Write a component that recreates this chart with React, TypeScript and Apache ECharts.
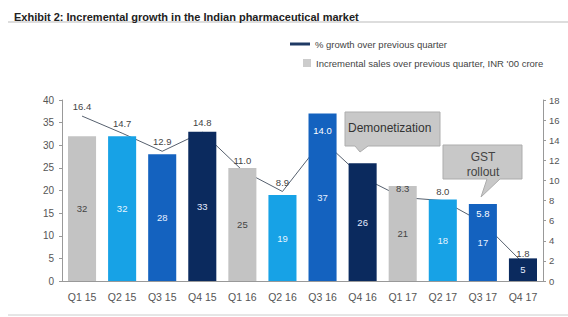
import React, { useEffect, useRef } from "react";
import * as echarts from "echarts";

const categories = ["Q1 15", "Q2 15", "Q3 15", "Q4 15", "Q1 16", "Q2 16", "Q3 16", "Q4 16", "Q1 17", "Q2 17", "Q3 17", "Q4 17"];
const incrementalSales = [32, 32, 28, 33, 25, 19, 37, 26, 21, 18, 17, 5];
const growthPct = [16.4, 14.7, 12.9, 14.8, 11.0, 8.9, 14.0, 10.3, 8.3, 8.0, 5.8, 1.8];
const leftTicks = { min: 0, max: 40, interval: 5 };
const rightTicks = { min: 0, max: 18, interval: 2 };

const quarterColors = ["#c3c3c3", "#17a2e6", "#1462bf", "#0b2a5e"];
const barLabelColors = ["#444", "#e6f4ff", "#e6f0ff", "#e6ecff"];
const hiddenGrowthLabel = "Q4 16";
const whiteGrowthLabels = ["Q3 16", "Q3 17"];

const FONT = "Liberation Sans";

export default function App() {
  const ref = useRef<HTMLDivElement>(null);
  useEffect(() => {
    if (!ref.current) return;
    const chart = echarts.init(ref.current, null, { renderer: "svg" });
    const barData = incrementalSales.map((v, i) => ({
      value: v,
      itemStyle: { color: quarterColors[i % 4] },
      label: { color: barLabelColors[i % 4] },
    }));
    const labelData = growthPct.map((v, i) => ({
      value: v,
      label: {
        show: categories[i] !== hiddenGrowthLabel,
        color: whiteGrowthLabels.includes(categories[i]) ? "#ffffff" : "#444",
      },
    }));
    chart.setOption({
      animation: false,
      textStyle: { fontFamily: FONT },
      title: {
        text: "Exhibit 2: Incremental growth in the Indian pharmaceutical market",
        left: 9,
        top: 6,
        textStyle: { fontSize: 11, fontWeight: "bold", color: "#222", fontFamily: FONT },
      },
      legend: [
        {
          orient: "vertical",
          left: 285,
          top: 34,
          icon: "rect",
          itemWidth: 20,
          itemHeight: 3,
          itemGap: 5,
          textStyle: { fontSize: 9.5, color: "#444", fontFamily: FONT },
          data: [{ name: "% growth over previous quarter", itemStyle: { color: "#1f3a64" } }],
        },
        {
          orient: "vertical",
          left: 298,
          top: 53,
          icon: "rect",
          itemWidth: 8,
          itemHeight: 8,
          itemGap: 5,
          textStyle: { fontSize: 9.5, color: "#444", fontFamily: FONT },
          data: [{ name: "Incremental sales over previous quarter, INR '00 crore", itemStyle: { color: "#cccccc" } }],
        },
      ],
      grid: { left: 62, right: 25, top: 100, bottom: 36, containLabel: false },
      xAxis: {
        type: "category",
        data: categories,
        axisTick: { show: false },
        axisLine: { lineStyle: { color: "#999" } },
        axisLabel: { fontSize: 10.5, color: "#555", margin: 10, fontFamily: FONT },
      },
      yAxis: [
        {
          type: "value",
          ...leftTicks,
          splitLine: { show: false },
          axisLine: { show: true, lineStyle: { color: "#999" } },
          axisTick: { show: true, length: 3, lineStyle: { color: "#999" } },
          axisLabel: { fontSize: 10, color: "#555", margin: 8, fontFamily: FONT },
        },
        {
          type: "value",
          ...rightTicks,
          splitLine: { show: false },
          axisLine: { show: true, lineStyle: { color: "#999" } },
          axisTick: { show: true, length: 3, lineStyle: { color: "#999" } },
          axisLabel: { fontSize: 9.5, color: "#555", margin: 6, fontFamily: FONT },
        },
      ],
      series: [
        {
          name: "Incremental sales over previous quarter, INR '00 crore",
          type: "bar",
          yAxisIndex: 0,
          barWidth: "70%",
          z: 3,
          itemStyle: { color: "#cccccc" },
          label: { show: true, position: "inside", fontSize: 9.5, fontFamily: FONT },
          data: barData,
        },
        {
          name: "% growth over previous quarter",
          type: "line",
          yAxisIndex: 1,
          z: 2,
          symbol: "none",
          lineStyle: { color: "#56606e", width: 1 },
          itemStyle: { color: "#56606e" },
          data: growthPct,
        },
        {
          name: "growth labels",
          type: "line",
          yAxisIndex: 1,
          z: 6,
          symbol: "circle",
          symbolSize: 1,
          showSymbol: true,
          lineStyle: { opacity: 0 },
          itemStyle: { color: "rgba(0,0,0,0)" },
          label: {
            show: true,
            position: "top",
            distance: 4,
            fontSize: 9.5,
            fontFamily: FONT,
            formatter: (p: any) => Number(p.value).toFixed(1),
          },
          data: labelData,
        },
      ],
      graphic: [
        { type: "line", shape: { x1: 8, y1: 22, x2: 568, y2: 22 }, style: { stroke: "#bbb", lineWidth: 1 } },
        { type: "line", shape: { x1: 8, y1: 315, x2: 568, y2: 315 }, style: { stroke: "#ccc", lineWidth: 1 } },
        {
          type: "polygon",
          z: 10,
          shape: { points: [[345, 112], [440, 112], [440, 146], [368, 146], [360, 152], [355, 146], [345, 146]] },
          style: { fill: "#c8c8c8", stroke: "#adadad", lineWidth: 1 },
        },
        {
          type: "text",
          z: 11,
          x: 348,
          y: 128,
          style: { text: "Demonetization", fontSize: 12, fill: "#333", fontFamily: FONT, verticalAlign: "middle" },
        },
        {
          type: "polygon",
          z: 10,
          shape: { points: [[443, 145], [522, 145], [522, 179], [500, 179], [481, 197], [487, 179], [443, 179]] },
          style: { fill: "#c8c8c8", stroke: "#adadad", lineWidth: 1 },
        },
        {
          type: "text",
          z: 11,
          x: 483,
          y: 157,
          style: { text: "GST", fontSize: 12, fill: "#444", fontFamily: FONT, align: "center", verticalAlign: "middle" },
        },
        {
          type: "text",
          z: 11,
          x: 483,
          y: 172,
          style: { text: "rollout", fontSize: 12, fill: "#444", fontFamily: FONT, align: "center", verticalAlign: "middle" },
        },
      ],
    });
    return () => chart.dispose();
  }, []);
  return <div ref={ref} style={{ width: 568, height: 317, position: "absolute", left: 0, top: 0 }} />;
}
